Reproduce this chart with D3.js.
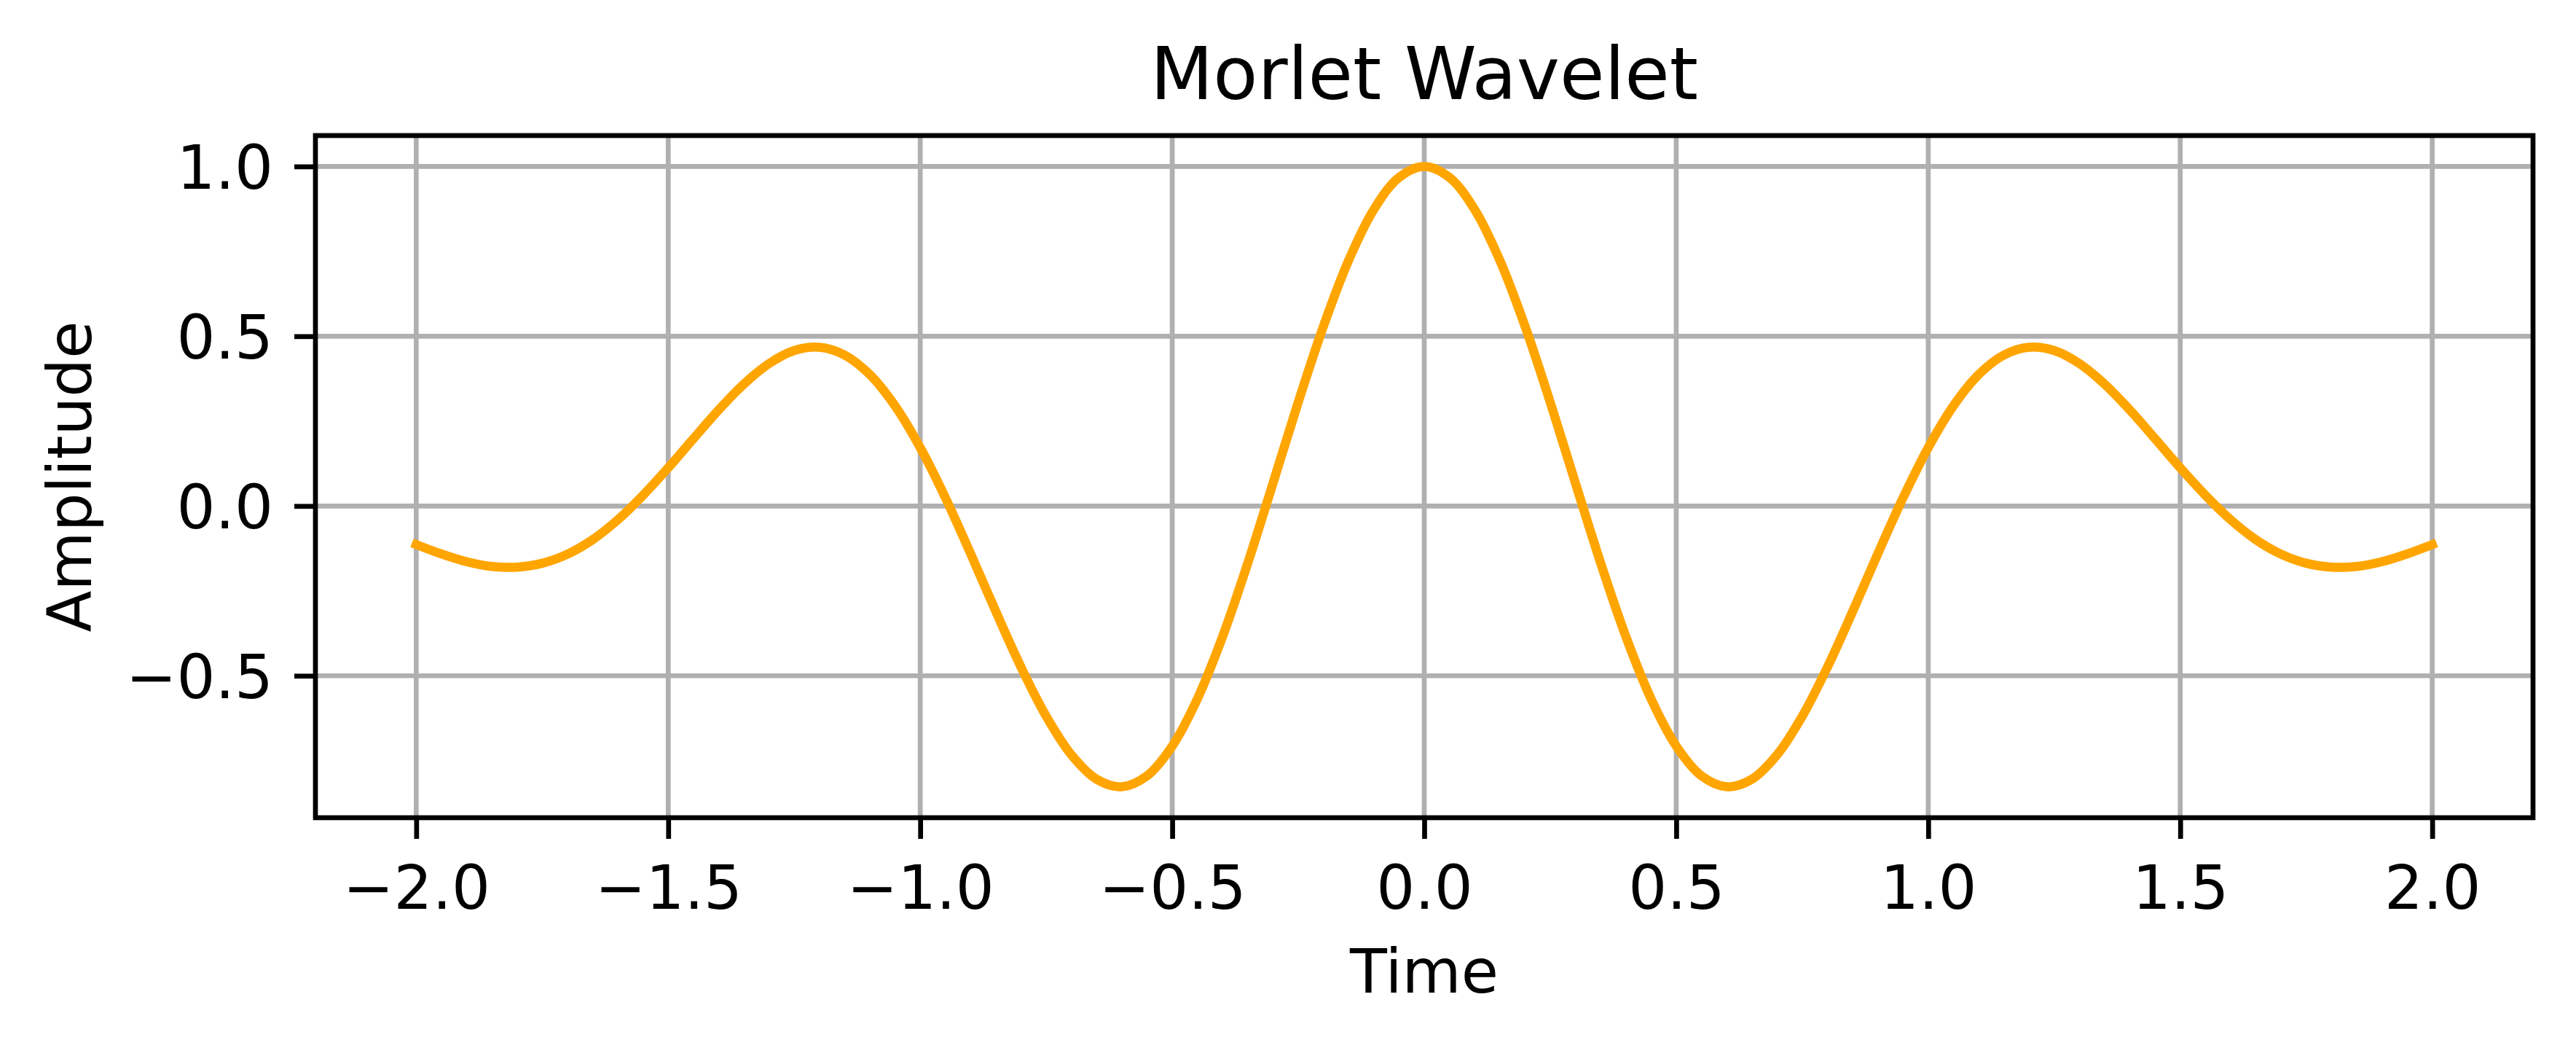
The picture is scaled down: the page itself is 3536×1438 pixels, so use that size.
<!DOCTYPE html>
<meta charset="utf-8">
<style>
body {
  margin: 0;
  background: #fff;
}
text {
  font-family: "DejaVu Sans", sans-serif;
  fill: #000;
}
.grid line {
  stroke: #b0b0b0;
  stroke-width: 6.7px;
}
.axis path, .axis line {
  stroke: #000;
  stroke-width: 6.7px;
}
.spine {
  fill: none;
  stroke: #000;
  stroke-width: 6.7px;
}
.wave {
  fill: none;
  stroke: #ffa500;
  stroke-width: 12.5px;
  stroke-linejoin: round;
  stroke-linecap: square;
}
</style>
<body>
<script src="https://d3js.org/d3.v7.min.js"></script>
<script>

var width = 3536,
    height = 1438;

// plot box, in pixels
var boxLeft = 433, boxRight = 3477, boxTop = 186, boxBottom = 1122;

// values
var times = [
  -2.00, -1.95, -1.90, -1.85, -1.80, -1.75, -1.70, -1.65, -1.60, -1.55,
  -1.50, -1.45, -1.40, -1.35, -1.30, -1.25, -1.20, -1.15, -1.10, -1.05,
  -1.00, -0.95, -0.90, -0.85, -0.80, -0.75, -0.70, -0.65, -0.60, -0.55,
  -0.50, -0.45, -0.40, -0.35, -0.30, -0.25, -0.20, -0.15, -0.10, -0.05,
   0.00,
   0.05,  0.10,  0.15,  0.20,  0.25,  0.30,  0.35,  0.40,  0.45,  0.50,
   0.55,  0.60,  0.65,  0.70,  0.75,  0.80,  0.85,  0.90,  0.95,  1.00,
   1.05,  1.10,  1.15,  1.20,  1.25,  1.30,  1.35,  1.40,  1.45,  1.50,
   1.55,  1.60,  1.65,  1.70,  1.75,  1.80,  1.85,  1.90,  1.95,  2.00
];

var amplitude = [
  -0.1136, -0.1412, -0.1640, -0.1780, -0.1803, -0.1687, -0.1419, -0.0991, -0.0405, 0.0317,
   0.1125,  0.1983,  0.2829,  0.3590,  0.4195,  0.4578,  0.4674,  0.4445,  0.3870, 0.2951,
   0.1720,  0.0239, -0.1406, -0.3108, -0.4746, -0.6194, -0.7330, -0.8048, -0.8269, -0.7946,
  -0.7070, -0.5677, -0.3842, -0.1677,  0.0676,  0.3056,  0.5296,  0.7235,  0.8732, 0.9677,
   1.0000,
   0.9677,  0.8732,  0.7235,  0.5296,  0.3056,  0.0676, -0.1677, -0.3842, -0.5677, -0.7070,
  -0.7946, -0.8269, -0.8048, -0.7330, -0.6194, -0.4746, -0.3108, -0.1406,  0.0239, 0.1720,
   0.2951,  0.3870,  0.4445,  0.4674,  0.4578,  0.4195,  0.3590,  0.2829,  0.1983, 0.1125,
   0.0317, -0.0405, -0.0991, -0.1419, -0.1687, -0.1803, -0.1780, -0.1640, -0.1412, -0.1136
];

var xTicks = [-2.0, -1.5, -1.0, -0.5, 0.0, 0.5, 1.0, 1.5, 2.0];
var yTicks = [-0.5, 0.0, 0.5, 1.0];

var x = d3.scaleLinear()
    .domain([-2.2, 2.2])
    .range([boxLeft, boxRight]);

var y = d3.scaleLinear()
    .domain([-0.918, 1.091])
    .range([boxBottom, boxTop]);

var svg = d3.select("body").append("svg")
    .attr("width", width)
    .attr("height", height);

// grid
svg.append("g")
    .attr("class", "grid")
  .selectAll("line")
    .data(xTicks)
  .enter().append("line")
    .attr("x1", x).attr("x2", x)
    .attr("y1", boxTop).attr("y2", boxBottom);

svg.append("g")
    .attr("class", "grid")
  .selectAll("line")
    .data(yTicks)
  .enter().append("line")
    .attr("x1", boxLeft).attr("x2", boxRight)
    .attr("y1", y).attr("y2", y);

// wavelet
var line = d3.line()
    .x(function(d, i) { return x(times[i]); })
    .y(function(d) { return y(d); })
    .curve(d3.curveCatmullRom);

svg.append("path")
    .datum(amplitude)
    .attr("class", "wave")
    .attr("d", line);

// axes
var fmt = d3.format(".1f");

var xAxis = svg.append("g")
    .attr("class", "axis")
    .attr("transform", "translate(0," + boxBottom + ")")
    .call(d3.axisBottom(x).tickValues(xTicks).tickFormat(fmt)
      .tickSize(29).tickPadding(29));

xAxis.select(".domain").remove();
xAxis.selectAll("text")
    .attr("dy", "0.8em")
    .style("font-size", "83.3px");

var yAxis = svg.append("g")
    .attr("class", "axis")
    .attr("transform", "translate(" + boxLeft + ",0)")
    .call(d3.axisLeft(y).tickValues(yTicks).tickFormat(fmt)
      .tickSize(29).tickPadding(29));

yAxis.select(".domain").remove();
yAxis.selectAll("text")
    .attr("dy", "0.36em")
    .style("font-size", "83.3px");

// frame
svg.append("rect")
    .attr("class", "spine")
    .attr("x", boxLeft)
    .attr("y", boxTop)
    .attr("width", boxRight - boxLeft)
    .attr("height", boxBottom - boxTop);

// labels
svg.append("text")
    .attr("x", (boxLeft + boxRight) / 2)
    .attr("y", 136)
    .attr("text-anchor", "middle")
    .style("font-size", "100px")
    .text("Morlet Wavelet");

svg.append("text")
    .attr("x", (boxLeft + boxRight) / 2)
    .attr("y", 1362)
    .attr("text-anchor", "middle")
    .style("font-size", "83.3px")
    .text("Time");

svg.append("text")
    .attr("transform", "translate(125," + (boxTop + boxBottom) / 2 + ") rotate(-90)")
    .attr("text-anchor", "middle")
    .style("font-size", "83.3px")
    .text("Amplitude");

</script>
